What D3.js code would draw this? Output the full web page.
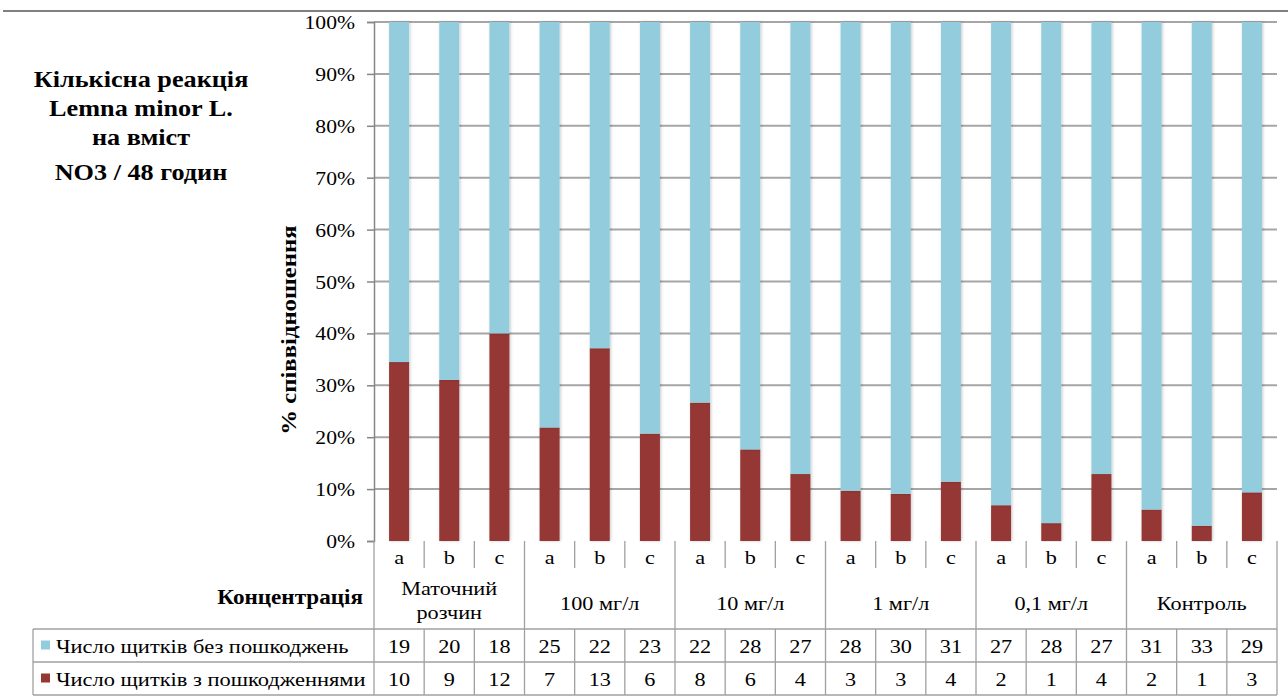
<!DOCTYPE html>
<html lang="uk">
<head>
<meta charset="utf-8">
<script src="https://cdn.jsdelivr.net/npm/d3@7"></script>
<style>
  html, body { margin: 0; padding: 0; background: #fff; }
  svg { display: block; }
</style>
</head>
<body>
<svg id="chart" width="1288" height="698"></svg>
<script>
// Replicates within each concentration group
const replicates = ["a", "b", "c"];
const groups = ["Маточний\nрозчин", "100 мг/л", "10 мг/л", "1 мг/л", "0,1 мг/л", "Контроль"];
// Number of fronds without / with damage
const healthy = [19, 20, 18, 25, 22, 23, 22, 28, 27, 28, 30, 31, 27, 28, 27, 31, 33, 29];
const damaged = [10, 9, 12, 7, 13, 6, 8, 6, 4, 3, 3, 4, 2, 1, 4, 2, 1, 3];
const seriesNames = ["Число щитків без пошкоджень", "Число щитків з пошкодженнями"];
const seriesColors = ["#93CDDD", "#953735"];
const yTicks = [0, 0.1, 0.2, 0.3, 0.4, 0.5, 0.6, 0.7, 0.8, 0.9, 1];
const titleLines = ["Кількісна реакція", "Lemna minor L.", "на вміст", "NO3 / 48 годин"];

const FONT = "'Liberation Serif', 'Times New Roman', serif";
const SX = 1.14; // horizontal stretch of the typeface

const svg = d3.select("#chart");

// text helper: glyphs slightly widened around the anchor point
function label(parent, x, y, str, opt = {}) {
  return parent.append("text")
    .attr("transform", `translate(${x},${y}) scale(${SX},1)`)
    .attr("text-anchor", opt.anchor || "middle")
    .style("font-family", FONT)
    .style("font-size", (opt.size || 19.5) + "px")
    .style("font-weight", opt.bold ? "bold" : "normal")
    .attr("fill", "#000")
    .text(str);
}

const rows = [];
groups.forEach((g, gi) => replicates.forEach((r, ri) => {
  const i = gi * replicates.length + ri;
  const total = healthy[i] + damaged[i];
  rows.push({ key: i, group: gi, rep: r, pDam: damaged[i] / total });
}));

const plot = { left: 374, right: 1277, top: 22, bottom: 541 };

const x = d3.scaleBand()
  .domain(rows.map(d => d.key))
  .range([plot.left, plot.right])
  .paddingInner(0.6)
  .paddingOuter(0.3);
const colW = (plot.right - plot.left) / rows.length;
const colLeft = i => plot.left + i * colW;
const barW = 20;

const y = d3.scaleLinear().domain([0, 1]).range([plot.bottom, plot.top]);

const defs = svg.append("defs");
const f = defs.append("filter").attr("id", "shadow")
  .attr("x", "-50%").attr("y", "-5%").attr("width", "200%").attr("height", "110%");
f.append("feDropShadow").attr("dx", 1).attr("dy", 0).attr("stdDeviation", 1.6)
  .attr("flood-color", "#000").attr("flood-opacity", 0.22);

// rule across the top of the figure
svg.append("line").attr("x1", 3).attr("x2", 1288).attr("y1", 11).attr("y2", 11)
  .attr("stroke", "#808080").attr("stroke-width", 2);

// horizontal gridlines
svg.append("g").selectAll("line").data(yTicks.filter(t => t > 0)).join("line")
  .attr("x1", plot.left).attr("x2", plot.right)
  .attr("y1", d => y(d)).attr("y2", d => y(d))
  .attr("stroke", "#a6a6a6").attr("stroke-width", 2);

// stacked 100% columns
const stack = d3.stack().keys(["pDam", "pHealthy"]);
const stacked = stack(rows.map(d => ({ key: d.key, pDam: d.pDam, pHealthy: 1 - d.pDam })));
const barG = svg.append("g");
stacked.forEach((layer, li) => {
  barG.append("g").attr("fill", li === 0 ? seriesColors[1] : seriesColors[0])
    .selectAll("rect").data(layer).join("rect")
    .attr("x", d => x(d.data.key) + (x.bandwidth() - barW) / 2)
    .attr("width", barW)
    .attr("y", d => y(d[1]))
    .attr("height", d => y(d[0]) - y(d[1]))
    .attr("filter", "url(#shadow)");
});

// y axis
const yAxis = d3.axisLeft(y).tickValues(yTicks).tickFormat(d3.format(".0%")).tickSize(7).tickPadding(0);
const yg = svg.append("g").attr("transform", `translate(${plot.left},0)`).call(yAxis);
yg.select(".domain").attr("stroke", "#868686").attr("stroke-width", 1.5);
yg.selectAll(".tick line").attr("stroke", "#868686").attr("stroke-width", 1.5);
yg.selectAll(".tick text")
  .attr("x", 0).attr("dy", null)
  .attr("transform", `translate(-19,6.5) scale(${SX},1)`)
  .style("font-family", FONT).style("font-size", "19px").attr("fill", "#000");

// y axis title
svg.append("text")
  .attr("transform", `translate(296,330) rotate(-90) scale(${SX},1)`)
  .attr("text-anchor", "middle")
  .style("font-family", FONT).style("font-weight", "bold").style("font-size", "21.7px")
  .text("% співвідношення");

// chart title
titleLines.forEach((t, i) => label(svg, 141, [87, 116, 145, 180][i], t, { size: 23, bold: true }));

// ---- data table under the plot ----
const tbl = svg.append("g").attr("stroke", "#a0a0a0").attr("stroke-width", 1.3);
const rowA = 572, rowTop = 629, rowMid = 662, rowBot = 695, legLeft = 33;

tbl.append("line").attr("x1", plot.left).attr("x2", plot.left).attr("y1", plot.bottom).attr("y2", rowBot);
// separators between replicates, upper level
tbl.append("g").selectAll("line").data(rows.filter(d => d.rep !== "a")).join("line")
  .attr("x1", d => colLeft(d.key)).attr("x2", d => colLeft(d.key))
  .attr("y1", plot.bottom).attr("y2", rowA - 4);
// separators between groups and the right edge
tbl.append("g").selectAll("line").data(d3.range(1, groups.length + 1)).join("line")
  .attr("x1", d => colLeft(d * 3)).attr("x2", d => colLeft(d * 3))
  .attr("y1", plot.bottom).attr("y2", rowBot);
// column separators of the value rows
tbl.append("g").selectAll("line").data(rows.filter(d => d.rep !== "a")).join("line")
  .attr("x1", d => colLeft(d.key)).attr("x2", d => colLeft(d.key))
  .attr("y1", rowTop).attr("y2", rowBot);
[rowTop, rowMid, rowBot].forEach(yy => tbl.append("line")
  .attr("x1", legLeft).attr("x2", plot.right).attr("y1", yy).attr("y2", yy));
tbl.append("line").attr("x1", legLeft).attr("x2", legLeft).attr("y1", rowTop).attr("y2", rowBot);

// replicate letters
const repG = svg.append("g");
rows.forEach(d => label(repG, colLeft(d.key) + colW / 2, 564, d.rep));

// group labels
const grpG = svg.append("g");
groups.forEach((g, gi) => {
  const cx = colLeft(gi * 3) + colW * 1.5;
  const lines = g.split("\n");
  lines.forEach((ln, li) => label(grpG, cx, lines.length === 1 ? 610 : 595 + li * 24, ln));
});

label(svg, 363, 604, "Концентрація", { anchor: "end", bold: true, size: 20.3 });

// legend keys and value rows
const valueRows = [healthy, damaged];
const rowCenters = [(rowTop + rowMid) / 2, (rowMid + rowBot) / 2];
valueRows.forEach((vals, ri) => {
  const cy = rowCenters[ri];
  svg.append("rect").attr("x", 41).attr("y", cy - 5).attr("width", 9).attr("height", 9)
    .attr("fill", seriesColors[ri]);
  label(svg, 56, cy + 7, seriesNames[ri], { anchor: "start", size: 19.7 });
  const vg = svg.append("g");
  vals.forEach((v, i) => label(vg, colLeft(i) + colW / 2, cy + 7, v));
});
</script>
</body>
</html>
